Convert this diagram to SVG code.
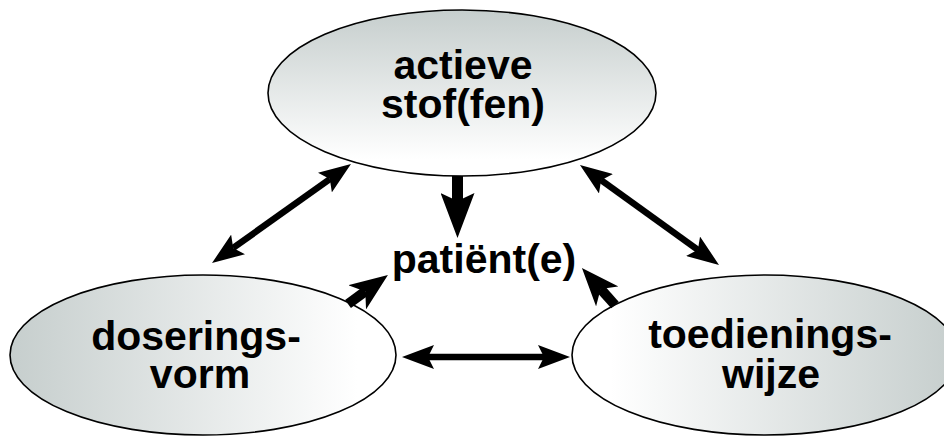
<svg xmlns="http://www.w3.org/2000/svg" width="944" height="436" viewBox="0 0 944 436">
<style>
.node ellipse{stroke:#000;stroke-width:1.6}
.lbl{font-family:"Liberation Sans",Arial,Helvetica,sans-serif;font-weight:bold;font-size:41px;fill:#000;text-anchor:middle}
.thin{stroke:#000;stroke-width:6.5;fill:none}
.thick{stroke:#000;stroke-width:10;fill:none}
.xthick{stroke:#000;stroke-width:11;fill:none}
</style>
<defs>
<linearGradient id="gTop" x1="0" y1="0" x2="0" y2="1">
<stop offset="0" stop-color="#c6cecd"/><stop offset="0.9" stop-color="#ffffff"/>
</linearGradient>
<linearGradient id="gLeft" x1="0" y1="0" x2="1" y2="0">
<stop offset="0" stop-color="#c6cecd"/><stop offset="0.9" stop-color="#ffffff"/>
</linearGradient>
<linearGradient id="gRight" x1="0" y1="0" x2="1" y2="0">
<stop offset="0.1" stop-color="#ffffff"/><stop offset="1" stop-color="#c6cecd"/>
</linearGradient>
<marker id="hS" markerUnits="userSpaceOnUse" viewBox="0 0 32 24" markerWidth="32" markerHeight="24" refX="6" refY="12" orient="auto-start-reverse">
<path d="M32,12 L0,0 L6,12 L0,24 Z" fill="#000"/>
</marker>
<marker id="hL" markerUnits="userSpaceOnUse" viewBox="0 0 38 30" markerWidth="38" markerHeight="30" refX="10" refY="15" orient="auto">
<path d="M38,15 L0,0 L10,15 L0,30 Z" fill="#000"/>
</marker>
<marker id="hXL" markerUnits="userSpaceOnUse" viewBox="0 0 45 34" markerWidth="45" markerHeight="34" refX="8" refY="17" orient="auto">
<path d="M45,17 L0,0 L8,17 L0,34 Z" fill="#000"/>
</marker>
</defs>
<g id="node-actieve" class="node">
<ellipse cx="462" cy="93" rx="194" ry="83" fill="url(#gTop)"/>
<text class="lbl" x="463" y="79">actieve</text>
<text class="lbl" x="463" y="118">stof(fen)</text>
</g>
<g id="node-dosering" class="node">
<ellipse cx="203" cy="355" rx="193" ry="80" fill="url(#gLeft)"/>
<text class="lbl" x="196" y="350">doserings-</text>
<text class="lbl" x="200" y="388">vorm</text>
</g>
<g id="node-toediening" class="node">
<ellipse cx="765" cy="355" rx="193" ry="80" fill="url(#gRight)"/>
<text class="lbl" x="770" y="348">toedienings-</text>
<text class="lbl" x="771" y="388">wijze</text>
</g>
<g id="node-patient">
<text class="lbl" x="484" y="273">patiënt(e)</text>
</g>
<g id="connectors">
<line class="thin" x1="233.2" y1="247.9" x2="329.8" y2="179.1" marker-start="url(#hS)" marker-end="url(#hS)"/>
<line class="thin" x1="601.1" y1="180.2" x2="697.9" y2="249.8" marker-start="url(#hS)" marker-end="url(#hS)"/>
<line class="thin" x1="428" y1="357" x2="544" y2="357" marker-start="url(#hS)" marker-end="url(#hS)"/>
<line class="xthick" x1="457.5" y1="176" x2="457.5" y2="201" marker-end="url(#hXL)"/>
<line class="thick" x1="348" y1="304" x2="365.3" y2="291.4" marker-end="url(#hL)"/>
<line class="thick" x1="615" y1="305" x2="600.6" y2="288.9" marker-end="url(#hL)"/>
</g>
</svg>
